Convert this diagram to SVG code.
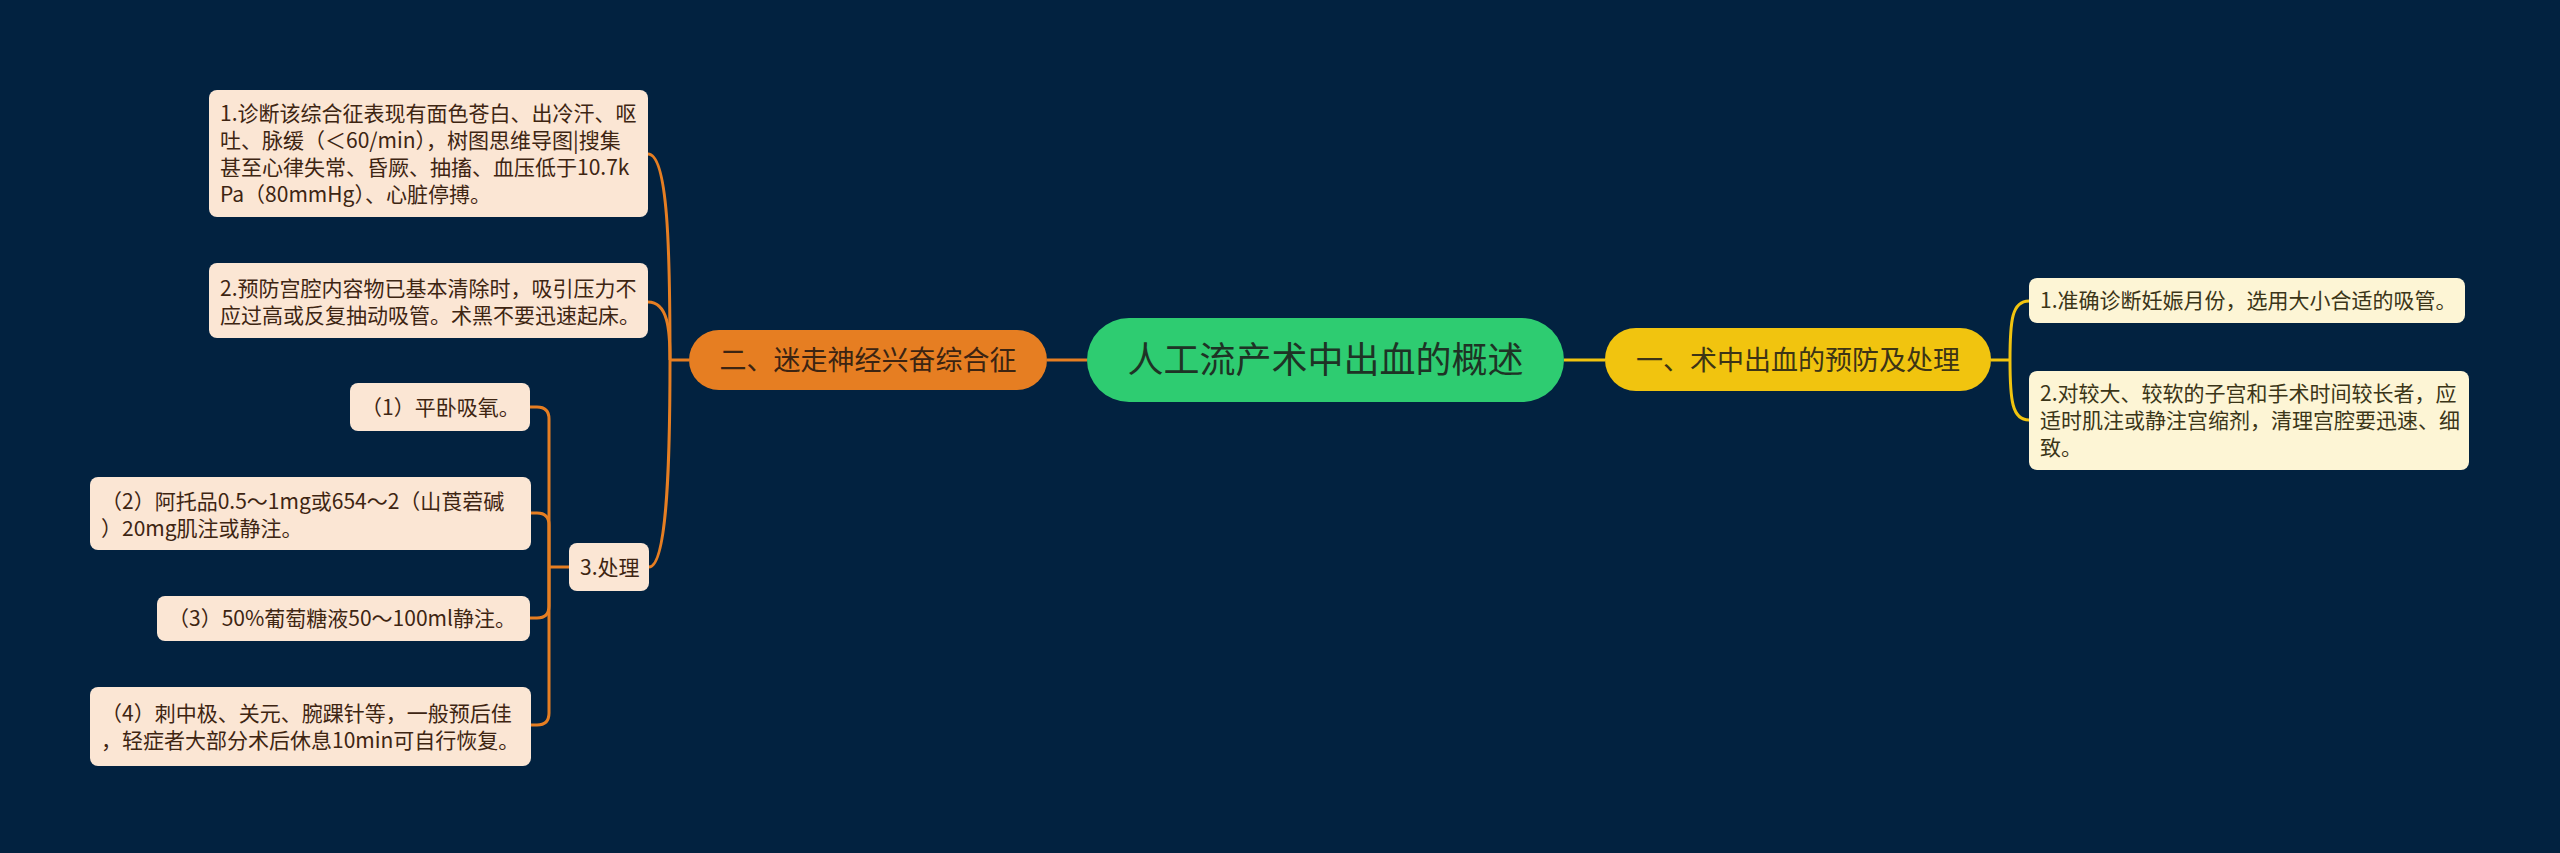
<svg xmlns="http://www.w3.org/2000/svg" width="2560" height="853" viewBox="0 0 2560 853">
<style>
text{font-family:"Noto Sans CJK SC","Noto Sans",sans-serif;}
.leafL{fill:#fbe6d4;}
.leafR{fill:#fdf5d5;}
.tL{font-size:21px;fill:#3e2512;}
.tR{font-size:21px;fill:#3b3518;}
.co{fill:none;stroke:#e67e22;stroke-width:3;}
.cy{fill:none;stroke:#f1c40f;stroke-width:3;}
</style>
<rect x="0" y="0" width="2560" height="853" fill="#022240"/>
<g id="connectors">
<path class="co" d="M1087,360 L1047,360"/>
<path class="cy" d="M1564,360 L1605,360"/>
<path class="co" d="M689,360 L670,360"/>
<path class="co" d="M670,360 C670,250 668,154 648,154"/>
<path class="co" d="M670,360 C670,330 668,302 648,302"/>
<path class="co" d="M670,360 C670,450 668,567 649,567"/>
<path class="cy" d="M1991,360 L2010,360"/>
<path class="cy" d="M2010,360 C2010,320 2012,301 2029,301"/>
<path class="cy" d="M2010,360 C2010,400 2012,420 2029,420"/>
<path class="co" d="M569,567 L549,567"/>
<path class="co" d="M549,567 L549,419 Q549,407 537,407 L530,407"/>
<path class="co" d="M549,567 L549,525 Q549,513 537,513 L530,513"/>
<path class="co" d="M549,567 L549,606 Q549,618 537,618 L530,618"/>
<path class="co" d="M549,567 L549,713 Q549,725 537,725 L530,725"/>
</g>
<g id="center">
<rect x="1087" y="318" width="477" height="84" rx="42" fill="#2ecc71"/>
<text x="1325.5" y="373" font-size="36" fill="#1e3325" text-anchor="middle">人工流产术中出血的概述</text>
</g>
<g id="branch-left">
<rect x="689" y="330" width="358" height="60" rx="30" fill="#e67e22"/>
<text x="868" y="369.5" font-size="27" fill="#3b2412" text-anchor="middle">二、迷走神经兴奋综合征</text>
</g>
<g id="branch-right">
<rect x="1605" y="328" width="386" height="63" rx="31" fill="#f1c40f"/>
<text x="1798" y="369.5" font-size="27" fill="#3d3416" text-anchor="middle">一、术中出血的预防及处理</text>
</g>
<g id="right-leaf-1">
<rect class="leafR" x="2029" y="278" width="436" height="45" rx="8"/>
<text class="tR" x="2040" y="308">1.准确诊断妊娠月份，选用大小合适的吸管。</text>
</g>
<g id="right-leaf-2">
<rect class="leafR" x="2029" y="371" width="440" height="99" rx="8"/>
<text class="tR" x="2040" y="401">2.对较大、较软的子宫和手术时间较长者，应</text>
<text class="tR" x="2040" y="428">适时肌注或静注宫缩剂，清理宫腔要迅速、细</text>
<text class="tR" x="2040" y="455">致。</text>
</g>
<g id="left-leaf-1">
<rect class="leafL" x="209" y="90" width="439" height="127" rx="8"/>
<text class="tL" x="220" y="121">1.诊断该综合征表现有面色苍白、出冷汗、呕</text>
<text class="tL" x="220" y="148">吐、脉缓（＜60/min），树图思维导图|搜集</text>
<text class="tL" x="220" y="175">甚至心律失常、昏厥、抽搐、血压低于10.7k</text>
<text class="tL" x="220" y="202">Pa（80mmHg）、心脏停搏。</text>
</g>
<g id="left-leaf-2">
<rect class="leafL" x="209" y="263" width="439" height="75" rx="8"/>
<text class="tL" x="220" y="296">2.预防宫腔内容物已基本清除时，吸引压力不</text>
<text class="tL" x="220" y="323">应过高或反复抽动吸管。术黑不要迅速起床。</text>
</g>
<g id="left-leaf-3">
<rect class="leafL" x="569" y="543" width="80" height="48" rx="8"/>
<text class="tL" x="580" y="575">3.处理</text>
</g>
<g id="sub-1">
<rect class="leafL" x="350" y="383" width="180" height="48" rx="8"/>
<text class="tL" x="361" y="415">（1）平卧吸氧。</text>
</g>
<g id="sub-2">
<rect class="leafL" x="90" y="477" width="441" height="73" rx="8"/>
<text class="tL" x="101" y="509">（2）阿托品0.5～1mg或654～2（山莨菪碱</text>
<text class="tL" x="101" y="536">）20mg肌注或静注。</text>
</g>
<g id="sub-3">
<rect class="leafL" x="157" y="596" width="373" height="45" rx="8"/>
<text class="tL" x="168" y="626">（3）50%葡萄糖液50～100ml静注。</text>
</g>
<g id="sub-4">
<rect class="leafL" x="90" y="687" width="441" height="79" rx="8"/>
<text class="tL" x="101" y="721">（4）刺中极、关元、腕踝针等，一般预后佳</text>
<text class="tL" x="101" y="748">，轻症者大部分术后休息10min可自行恢复。</text>
</g>
</svg>
